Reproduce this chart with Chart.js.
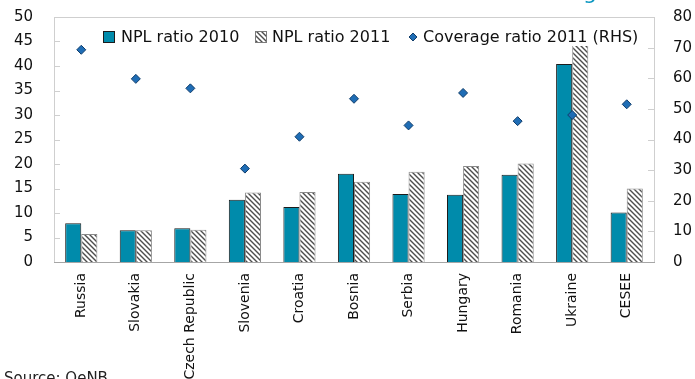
<!DOCTYPE html>
<html>
<head>
<meta charset="utf-8">
<script src="https://cdn.jsdelivr.net/npm/chart.js@4.4.1/dist/chart.umd.min.js"></script>
<style>
  html, body { margin: 0; padding: 0; background: #fff; overflow: hidden; }
  #wrap { position: relative; width: 695px; height: 379px; overflow: hidden; }
  #title { position: absolute; left: 505px; top: -19px; font: 22px 'DejaVu Sans'; line-height: 22px; color: #0a96c0; white-space: nowrap; }
  #source { position: absolute; left: 4px; top: 371px; font: 15px 'DejaVu Sans'; line-height: 15px; color: #222; white-space: nowrap; }
</style>
</head>
<body>
<div id="wrap">
  <canvas id="c" width="695" height="379"></canvas>
  <div id="title">Coverage</div>
  <div id="source">Source: OeNB.</div>
</div>
<script>
const categories = ['Russia', 'Slovakia', 'Czech Republic', 'Slovenia', 'Croatia', 'Bosnia', 'Serbia', 'Hungary', 'Romania', 'Ukraine', 'CESEE'];
const npl2010 = [7.9, 6.5, 6.9, 12.7, 11.2, 18.0, 13.9, 13.7, 17.8, 40.4, 10.1];
const npl2011 = [5.7, 6.5, 6.6, 14.2, 14.3, 16.4, 18.4, 19.6, 20.1, 44.6, 15.0];
const coverage2011 = [69.3, 59.8, 56.7, 30.5, 40.9, 53.3, 44.6, 55.2, 46.0, 48.0, 51.5];
const leftTicks = [0, 5, 10, 15, 20, 25, 30, 35, 40, 45, 50];
const rightTicks = [0, 10, 20, 30, 40, 50, 60, 70, 80];

const TEAL = '#008bab', DIAMOND = '#1f6db5';

function hatch() {
  const c = document.createElement('canvas');
  c.width = c.height = 5;
  const g = c.getContext('2d');
  g.fillStyle = '#fff'; g.fillRect(0, 0, 5, 5);
  g.strokeStyle = '#4d4d4d'; g.lineWidth = 1.4;
  g.beginPath();
  g.moveTo(-1, -1); g.lineTo(6, 6);
  g.moveTo(-3.5, 1.5); g.lineTo(1.5, 6.5);
  g.moveTo(1.5, -3.5); g.lineTo(6.5, 1.5);
  g.stroke();
  return g.createPattern(c, 'repeat');
}
const HATCH = hatch();

// frame round the plot, small inner ticks on both value axes
const FramePlugin = {
  id: 'frame',
  beforeDatasetsDraw(chart) {
    const { ctx, chartArea: a, scales } = chart;
    ctx.save();
    ctx.lineWidth = 1;
    ctx.strokeStyle = '#cfcfcf';
    ctx.strokeRect(a.left + 0.5, a.top + 0.5, a.right - a.left, a.bottom - a.top);
    ctx.beginPath();
    leftTicks.forEach(v => { const y = Math.round(scales.y.getPixelForValue(v)) + 0.5; ctx.moveTo(a.left, y); ctx.lineTo(a.left + 6, y); });
    rightTicks.forEach(v => { const y = Math.round(scales.y1.getPixelForValue(v)) + 0.5; ctx.moveTo(a.right - 6, y); ctx.lineTo(a.right, y); });
    ctx.stroke();
    ctx.strokeStyle = '#a6a6a6';
    ctx.beginPath();
    ctx.moveTo(a.left, Math.round(a.bottom) + 0.5); ctx.lineTo(a.right + 1, Math.round(a.bottom) + 0.5);
    ctx.stroke();
    ctx.restore();
  }
};

// legend sits inside the plot on a white band
const LegendPlugin = {
  id: 'insideLegend',
  afterDatasetsDraw(chart) {
    const ctx = chart.ctx, y = 37;
    ctx.save();
    ctx.fillStyle = '#fff';
    ctx.fillRect(98, 26, 550, 20);
    ctx.font = '16px "DejaVu Sans"';
    ctx.textBaseline = 'middle';
    ctx.fillStyle = TEAL; ctx.fillRect(103.5, 31.5, 11, 11);
    ctx.strokeStyle = '#1c1c1c'; ctx.strokeRect(103.5, 31.5, 11, 11);
    ctx.fillStyle = HATCH; ctx.fillRect(255.5, 31.5, 11, 11);
    ctx.strokeStyle = '#7a7a7a'; ctx.strokeRect(255.5, 31.5, 11, 11);
    ctx.fillStyle = DIAMOND; ctx.strokeStyle = '#103d6b';
    ctx.beginPath(); ctx.moveTo(413, y - 4); ctx.lineTo(417, y); ctx.lineTo(413, y + 4); ctx.lineTo(409, y); ctx.closePath();
    ctx.fill(); ctx.stroke();
    ctx.fillStyle = '#111';
    ctx.fillText('NPL ratio 2010', 121, y + 1);
    ctx.fillText('NPL ratio 2011', 272, y + 1);
    ctx.fillText('Coverage ratio 2011 (RHS)', 423, y + 1);
    ctx.restore();
  }
};

const fitY = w => s => { s.width = w; s.paddingTop = 0; s.paddingBottom = 0; };

new Chart(document.getElementById('c'), {
  data: {
    labels: categories,
    datasets: [
      { type: 'line', label: 'Coverage ratio 2011 (RHS)', data: coverage2011, yAxisID: 'y1', showLine: false, order: 0,
        pointStyle: 'rectRot', pointRadius: 4.5, pointBackgroundColor: DIAMOND, pointBorderColor: '#103d6b', pointBorderWidth: 1 },
      { type: 'bar', label: 'NPL ratio 2010', data: npl2010, yAxisID: 'y', order: 1,
        backgroundColor: TEAL, borderColor: '#1c1c1c', borderWidth: 1, categoryPercentage: 0.59, barPercentage: 1 },
      { type: 'bar', label: 'NPL ratio 2011', data: npl2011, yAxisID: 'y', order: 1,
        backgroundColor: HATCH, borderColor: '#8a8a8a', borderWidth: 1, categoryPercentage: 0.59, barPercentage: 1 },
    ]
  },
  options: {
    responsive: false, animation: false,
    layout: { autoPadding: false, padding: { top: 17, left: 0, right: 0, bottom: 0 } },
    plugins: { legend: { display: false }, tooltip: { enabled: false } },
    scales: {
      x: {
        grid: { display: false, drawTicks: false }, border: { display: false },
        ticks: { color: '#111', font: { family: 'DejaVu Sans', size: 14 }, minRotation: 90, maxRotation: 90, padding: 11, autoSkip: false },
        afterFit: s => { s.height = 117; s.paddingLeft = 0; s.paddingRight = 0; }
      },
      y: {
        position: 'left', min: 0, max: 50,
        afterBuildTicks: s => { s.ticks = leftTicks.map(v => ({ value: v })); },
        grid: { display: false, drawTicks: false }, border: { display: false },
        ticks: { color: '#111', font: { family: 'DejaVu Sans', size: 15 }, padding: 21 },
        afterFit: fitY(54)
      },
      y1: {
        position: 'right', min: 0, max: 80,
        afterBuildTicks: s => { s.ticks = rightTicks.map(v => ({ value: v })); },
        grid: { display: false, drawTicks: false }, border: { display: false },
        ticks: { color: '#111', font: { family: 'DejaVu Sans', size: 15 }, padding: 19 },
        afterFit: fitY(41)
      }
    }
  },
  plugins: [FramePlugin, LegendPlugin]
});
</script>
</body>
</html>
